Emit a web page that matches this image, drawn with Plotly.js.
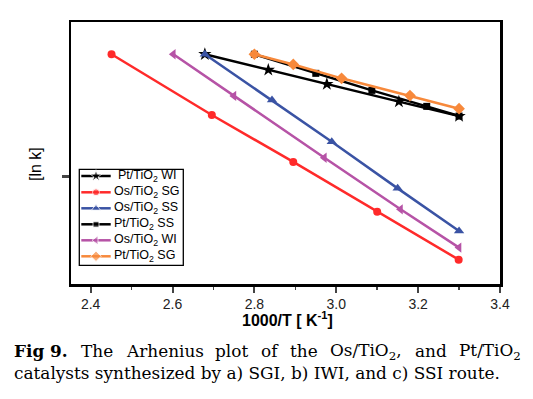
<!DOCTYPE html>
<html><head><meta charset="utf-8">
<script src="https://cdn.plot.ly/plotly-3.0.1.min.js"></script>
<style>body{margin:0;background:#fff}#c{width:533px;height:399px}</style>
</head><body><div id="c"></div>
<script>
// Data (y in arbitrary ln k units)
const ptWI_x = [2.679, 2.834, 2.977, 3.153, 3.300];
const ptWI_y = [8.77, 8.17, 7.63, 6.96, 6.41];
const osSG_x = [2.451, 2.696, 2.895, 3.100, 3.299];
const osSG_y = [8.77, 6.45, 4.66, 2.76, 0.93];
const osSS_x = [2.679, 2.843, 2.989, 3.150, 3.300];
const osSS_y = [8.77, 7.02, 5.43, 3.65, 2.02];
const ptSS_x = [2.800, 2.950, 3.087, 3.221, 3.300];
const ptSS_y = [8.77, 8.04, 7.39, 6.78, 6.41];
const osWI_x = [2.602, 2.750, 2.971, 3.157, 3.300];
const osWI_y = [8.77, 7.18, 4.82, 2.85, 1.39];
const ptSG_x = [2.800, 2.895, 3.013, 3.180, 3.300];
const ptSG_y = [8.77, 8.38, 7.85, 7.19, 6.69];
const names = ["Pt/TiO<sub>2</sub> WI","Os/TiO<sub>2</sub> SG","Os/TiO<sub>2</sub> SS","Pt/TiO<sub>2</sub> SS","Os/TiO<sub>2</sub> WI","Pt/TiO<sub>2</sub> SG"];
const xTicks = [2.4, 2.6, 2.8, 3.0, 3.2, 3.4];
const xTickText = ["2.4","2.6","2.8","3.0","3.2","3.4"];
const xMinorTicks = [2.5, 2.7, 2.9, 3.1, 3.3];
const captionLine1 = ["Fig 9.","The","Arhenius","plot","of","the","Os/TiO|2|,","and","Pt/TiO|2|"];
const captionLine2 = "catalysts synthesized by a) SGI, b) IWI, and c) SSI route.";

// ---- layout geometry (pixels) ----
const W=533,H=399,L=71,R=500,T=22,B=284;
const px = x => (x-L)/(R-L);
const py = y => (B-y)/(B-T);

const colors = ['#000000','#ff2a2a','#3a53a4','#000000','#b653a6','#f7893b'];
const symbols = ['star','circle','triangle-up','square','triangle-left','diamond'];
const msizes = [10,8,9,7,9,9];
const xs=[ptWI_x,osSG_x,osSS_x,ptSS_x,osWI_x,ptSG_x];
const ys=[ptWI_y,osSG_y,osSS_y,ptSS_y,osWI_y,ptSG_y];

const data = xs.map((x,i)=>({x:x,y:ys[i],name:names[i],type:'scatter',mode:'lines+markers',
  showlegend:false,line:{color:colors[i],width:2.5},
  marker:{symbol:symbols[i],size:msizes[i],color:colors[i]}}));

// manual legend (pixel-space overlay axes)
const legTop=169.3, legLeft=79.3, legRight=183.3, legBottom=265.3;
const rowY=[176,192.3,208.3,224.3,240.3,256.3];
const textX=[117.3,113.3,113.3,113.3,113.3,113.3];
names.forEach((n,i)=>{
  data.push({x:[81.3,96,110.7],y:[rowY[i],rowY[i],rowY[i]],xaxis:'x2',yaxis:'y2',
    type:'scatter',mode:'lines+markers',showlegend:false,hoverinfo:'skip',
    line:{color:colors[i],width:2.5},
    marker:{symbol:symbols[i],size:[0,msizes[i]-1,0],color:colors[i]}});
});

const annotations = [
  {text:'[ln k]',xref:'paper',yref:'paper',x:px(35),y:py(164),textangle:-90,showarrow:false,
    font:{size:16},xanchor:'center',yanchor:'middle'},
  {text:'<b>1000/T [ K<sup>-1</sup>]</b>',xref:'paper',yref:'paper',x:px(287),y:py(319),showarrow:false,
    font:{size:16},xanchor:'center',yanchor:'middle'}
];
names.forEach((n,i)=>annotations.push({text:n,xref:'paper',yref:'paper',x:px(textX[i]),y:py(rowY[i]),
  xanchor:'left',yanchor:'middle',showarrow:false,font:{size:12.5},borderpad:0}));

// caption: justified first line, measured with canvas
const ctx=document.createElement('canvas').getContext('2d');
const FAM='"DejaVu Serif"';
function meas(t,sz,bold){ctx.font=(bold?'bold ':'')+sz+'px '+FAM;return ctx.measureText(t).width;}
const line2W=499-13.3;
const capSize=Math.round(16*line2W/meas(captionLine2,16,false)*10)/10;
function wordW(w,i){
  const parts=w.split('|');let s=0;
  parts.forEach((p,k)=>{s+= (k%2===1)?meas(p,capSize*0.7,false):meas(p,capSize,i===0);});
  return s;
}
function wordHtml(w,i){
  const parts=w.split('|');const h=parts.map((p,k)=>k%2===1?'<sub>'+p+'</sub>':p).join('');
  return i===0?'<b>'+h+'</b>':h;
}
const widths=captionLine1.map(wordW);
const sumW=widths.reduce((a,b)=>a+b,0);
const gap=(520-13.3-sumW)/(captionLine1.length-1);
const serif={family:'DejaVu Serif, serif',size:capSize,color:'#000'};
let cx=13.3;
captionLine1.forEach((w,i)=>{annotations.push({text:wordHtml(w,i),xref:'paper',yref:'paper',x:px(cx),y:py(351),
  xanchor:'left',yanchor:'middle',showarrow:false,font:serif,borderpad:0});cx+=widths[i]+gap;});
annotations.push({text:captionLine2,xref:'paper',yref:'paper',x:px(13.3),y:py(372.5),
  xanchor:'left',yanchor:'middle',showarrow:false,font:serif,borderpad:0});

const layout = {
  width:W,height:H,
  margin:{l:L,r:W-R,t:T,b:H-B},
  paper_bgcolor:'#fff',plot_bgcolor:'#fff',
  font:{family:'Liberation Sans, Arial, sans-serif',color:'#000'},
  showlegend:false,
  xaxis:{range:[2.352,3.4],tickvals:xTicks,ticktext:xTickText,ticks:'outside',
    ticklen:6,tickwidth:2,showline:true,linewidth:2.5,linecolor:'#000',mirror:true,
    showgrid:false,zeroline:false,tickfont:{size:14,color:'#222'},
    minor:{tickvals:xMinorTicks,ticks:'outside',ticklen:3,tickwidth:1.5}},
  yaxis:{range:[0,10],tickvals:[4.095],ticktext:[''],ticks:'outside',ticklen:7,tickwidth:2.5,
    showline:true,linewidth:2.5,linecolor:'#000',mirror:true,showgrid:false,zeroline:false},
  xaxis2:{overlaying:'x',range:[L,R],visible:false,fixedrange:true},
  yaxis2:{overlaying:'y',range:[B,T],visible:false,fixedrange:true},
  shapes:[{type:'rect',xref:'paper',yref:'paper',x0:px(legLeft),x1:px(legRight),y0:py(legBottom),y1:py(legTop),
    line:{color:'#000',width:1.3},fillcolor:'#fff',layer:'below'}],
  annotations:annotations
};
Plotly.newPlot('c',data,layout,{displayModeBar:false,staticPlot:true});
</script></body></html>
